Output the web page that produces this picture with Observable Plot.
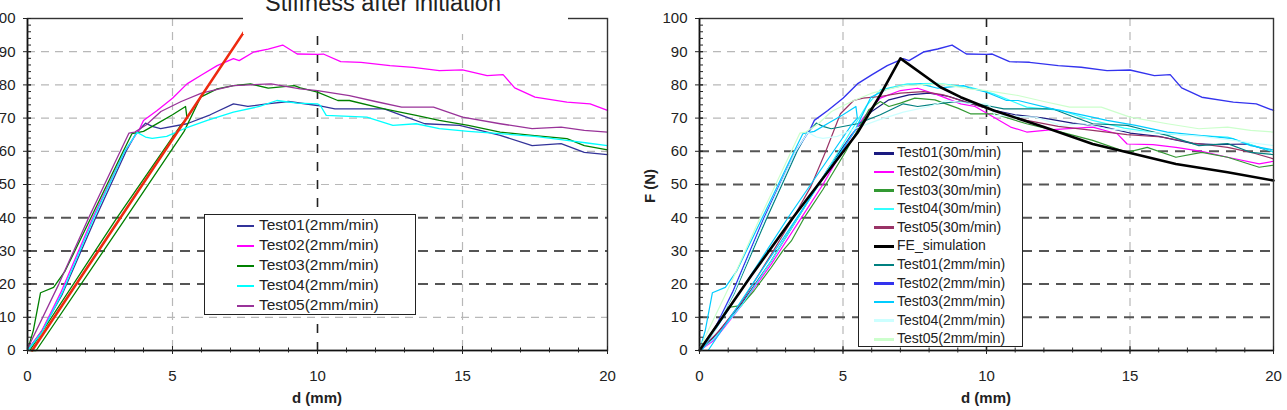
<!DOCTYPE html>
<html><head><meta charset="utf-8">
<script src="https://cdn.jsdelivr.net/npm/d3@7"></script>
<script src="https://cdn.jsdelivr.net/npm/@observablehq/plot@0.6"></script>
<style>
body{margin:0;background:#fff;}
#wrap{position:relative;width:1287px;height:410px;overflow:hidden;background:#fff;font-family:Arial,"Liberation Sans",sans-serif;color:#222;}
.abs{position:absolute;}
.lab{position:absolute;font-weight:bold;font-size:15px;white-space:nowrap;color:#222;}
.legend{position:absolute;background:#fff;border:1px solid #222;box-sizing:border-box;}
.row{position:absolute;white-space:nowrap;}
.sw{position:absolute;}
</style></head>
<body><div id="wrap"></div>
<script>
// ---------- axes / ticks ----------
const xMajor = [0, 5, 10, 15, 20];
const xMinor = d3.range(0, 21, 1);
const yMajor = d3.range(0, 101, 10);
const yMinor = d3.range(0, 101, 2);
const gridXLight = [5, 15];
const gridXDark = [10];
const gridYLightL = [10, 50, 60, 70, 80, 90];
const gridYDarkL = [20, 30, 40];
const gridYLightR = [70, 80, 90];
const gridYDarkR = [10, 20, 30, 40, 50, 60];

// ---------- 2 mm/min tests (d mm, F N) ----------
const test01_2mm = [[0,0],[0.5,6],[1.2,17],[2.35,40],[3.4,60],[3.75,65.5],[4.07,68.5],[4.3,67.5],[4.59,66.8],[5.5,68.3],[6.3,71],[7.1,74.3],[7.6,73.5],[8.26,74.3],[9,75],[10,73.8],[10.6,72.8],[11.5,72.8],[12.3,72.8],[13,70.5],[13.7,68.3],[14.9,67.8],[15.5,66.5],[16.3,64.8],[17.4,61.7],[18.4,62.3],[19.2,59.7],[20,59]];
const test02_2mm = [[0,0],[0.5,6],[1.15,17.5],[2.25,40],[3.35,60],[3.85,66.5],[4.0,69.3],[4.47,72.3],[5.0,76],[5.5,80.3],[6.0,83],[6.54,85.8],[7.1,87.9],[7.3,87.3],[7.8,89.9],[8.3,90.8],[8.8,92],[9.3,89.3],[10,89.2],[10.2,89.3],[10.8,87],[11.5,86.8],[12.5,85.8],[13.3,85.3],[14.2,84.3],[15.0,84.5],[15.85,82.8],[16.4,83.1],[16.8,79.1],[17.5,76.3],[18.6,74.8],[19.4,74.3],[20,72.3]];
const test03_2mm = [[0,0],[0.2,6],[0.45,17.4],[0.9,19],[1.3,24],[2.3,42],[3.3,60],[3.6,65.3],[4.0,66],[4.5,68.5],[5.0,71],[5.45,73.5],[5.5,70],[5.3,68],[3.1,40.2],[0.08,0],[0.3,0],[3.41,40.2],[5.4,66],[5.97,76.3],[6.54,78.8],[7.1,79.8],[7.69,80.3],[8.3,79],[9.2,79.8],[9.41,79.1],[10,77.8],[10.7,75.3],[11.1,75.3],[12.3,72.8],[13.4,70.8],[14.2,69.3],[15.2,67.8],[16.3,65.8],[17.4,64.8],[18.6,63.8],[19.2,61.7],[20,60.4]];
const test04_2mm = [[0,0],[0.5,5.5],[1.2,17.5],[2.29,40],[3.35,60],[3.78,65.7],[4.07,64.3],[4.3,63.9],[4.8,64.5],[5.4,66.8],[6.2,69.3],[7.1,71.8],[8,73.5],[8.6,75.3],[9.3,74.5],[10,74.3],[10.1,73.8],[10.3,70.8],[11.7,70.3],[12.6,67.8],[13.4,68.3],[14.2,66.8],[15.2,66],[16.3,65.3],[17.5,64.5],[18.6,63.3],[19.3,62.5],[20,61.7]];
const test05_2mm = [[0,0.5],[1.08,20],[2.11,40],[3.2,60],[3.5,65.5],[3.7,65.8],[4.1,68],[4.6,72],[5.3,75],[6.0,77.5],[7.1,79.8],[8.4,80.3],[9.4,78.8],[10,78.3],[11.1,76.8],[12,75],[12.9,73.3],[14,73.3],[15,70.3],[16.3,68.3],[17.4,66.8],[18.4,67.3],[19.2,66.3],[20,65.8]];
const stiffnessLine = [[0.16,0],[7.46,95.9]];

// ---------- 30 m/min tests ----------
const test01_30 = [[0,0],[0.5,4],[1.5,14.5],[2.5,27],[3.5,41],[4.5,55],[5.3,65],[6,72],[6.6,75.5],[7.3,77],[8,77.5],[8.7,76.5],[9.4,74.5],[10.2,72.5],[11,71],[12,70],[13,68.5],[14,67.5],[15,65.5],[16,64.5],[17.2,62.3],[18,62],[19.1,62.2],[20,59.8]];
const test02_30 = [[0,0],[0.5,3],[1.5,14],[2.5,26],[3.4,38],[4.3,50],[5.1,62],[5.7,70],[6.3,76],[7.0,78.3],[7.6,79],[8.3,77],[9.1,74.3],[9.6,73.5],[10.3,70],[10.84,67.3],[11.4,65.8],[12.3,66.5],[13.7,67.3],[14.55,65.3],[14.9,62.2],[15.8,62],[16.6,61.2],[17.5,60],[18.4,58.2],[19.5,56.2],[20,57]];
const test03_30 = [[0,0],[0.3,4],[0.7,9],[1.0,13],[1.45,13.5],[1.9,18],[2.5,25],[2.9,30],[3.2,33],[3.65,40],[4.3,48.5],[5.1,60],[5.9,72.5],[6.3,75],[6.6,73.5],[7.0,74.5],[7.5,76],[8.2,75.5],[9,73],[9.44,71.3],[10.25,71.3],[11.4,68.3],[12.5,66],[13.7,63.3],[14.9,59.7],[15.6,61.2],[16.6,58.2],[17.5,59.7],[18.4,58.2],[19.5,55.2],[20,55.8]];
const test04_30 = [[0,0],[0.5,3.5],[1.5,14],[2.5,27],[3.5,41],[4.5,55],[5.2,65],[5.8,73.5],[6.3,78.5],[7.24,80.3],[8.3,80.5],[9.44,79.3],[10.25,77.3],[11.4,73.3],[12.6,72.3],[13.7,69.3],[14.8,67],[16.1,65.3],[17.2,64.8],[18.4,64.3],[19.5,61.2],[20,59.8]];
const test05_30 = [[0,0],[0.7,6],[1.5,15],[2.5,29],[3.2,39],[3.87,49.2],[4.4,60],[4.91,71.3],[5.37,75.3],[5.7,76],[6.3,76.5],[7,77.5],[7.8,78],[8.5,77],[9.1,75.3],[10.2,72.5],[11.4,69.3],[12.5,67.5],[13.7,66.3],[14.9,65],[16.1,64.3],[17.2,62.5],[18.4,61.2],[19.3,59.5],[20,57.7]];
const feSimulation = [[0,0],[1.8,22.5],[3.3,40.5],[4.4,53],[5.5,65.5],[6.3,77],[7.0,88],[8.4,79.3],[9.1,76.3],[10.25,72.3],[12.0,67.3],[13.7,62.2],[14.9,59.7],[16.6,56.2],[18.4,53.7],[20,51.2]];

// ---------- legends ----------
const leftLegend = [
  {name:"Test01(2mm/min)", data:test01_2mm, color:"#333399", w:1.3},
  {name:"Test02(2mm/min)", data:test02_2mm, color:"#ff00ff", w:1.3},
  {name:"Test03(2mm/min)", data:test03_2mm, color:"#008000", w:1.3},
  {name:"Test04(2mm/min)", data:test04_2mm, color:"#00ffff", w:1.3},
  {name:"Test05(2mm/min)", data:test05_2mm, color:"#993399", w:1.3}
];
const rightLegend = [
  {name:"Test01(30m/min)", data:test01_30, color:"#1a1a80", w:1.2},
  {name:"Test02(30m/min)", data:test02_30, color:"#ff00ff", w:1.2},
  {name:"Test03(30m/min)", data:test03_30, color:"#339933", w:1.2},
  {name:"Test04(30m/min)", data:test04_30, color:"#33ffff", w:1.2},
  {name:"Test05(30m/min)", data:test05_30, color:"#993366", w:1.2},
  {name:"FE_simulation", data:feSimulation, color:"#000000", w:2.6},
  {name:"Test01(2mm/min)", data:test01_2mm, color:"#008080", w:1.2},
  {name:"Test02(2mm/min)", data:test02_2mm, color:"#3333ee", w:1.4},
  {name:"Test03(2mm/min)", data:test03_2mm, color:"#00ccff", w:1.2},
  {name:"Test04(2mm/min)", data:test04_2mm, color:"#ccffff", w:1.2},
  {name:"Test05(2mm/min)", data:test05_2mm, color:"#ccffcc", w:1.2}
];

const FONT = 'Arial, "Liberation Sans", sans-serif';
const wrap = document.getElementById("wrap");

function panel({left, width, ml, mr, gridYLight, gridYDark, series, extra, frameStroke}) {
  const marks = [
    Plot.ruleX(gridXLight, {stroke:"#b8b8b8", strokeWidth:1.2, strokeDasharray:"8,6"}),
    Plot.ruleY(gridYLight, {stroke:"#b8b8b8", strokeWidth:1.2, strokeDasharray:"8,6"}),
    Plot.ruleY(gridYDark, {stroke:"#555", strokeWidth:2, strokeDasharray:"10,7"}),
    Plot.ruleX(gridXDark, {stroke:"#222", strokeWidth:1.6, strokeDasharray:"9,9"}),
    ...series.filter(s => s.name !== "FE_simulation").map(s => Plot.line(s.data, {stroke:s.color, strokeWidth:s.w})),
    ...series.filter(s => s.name === "FE_simulation").map(s => Plot.line(s.data, {stroke:s.color, strokeWidth:s.w})),
    ...extra,
    Plot.frame({stroke: frameStroke, strokeWidth:1.4}),
    Plot.ruleX([0], {stroke:"#111", strokeWidth:1.6}),
    Plot.ruleY([0], {stroke:"#111", strokeWidth:1.6}),
    Plot.axisX({ticks:xMajor, tickSize:0, tickPadding:20, label:null, fontSize:15}),
    Plot.axisX({ticks:xMajor, tickSize:8, dy:-4, tickFormat:()=>"", label:null}),
    Plot.axisX({ticks:xMinor, tickSize:5, dy:-2.5, tickFormat:()=>"", label:null}),
    Plot.axisY({ticks:yMajor, tickSize:0, tickPadding:12, label:null, fontSize:15}),
    Plot.axisY({ticks:yMajor, tickSize:8, dx:4, tickFormat:()=>"", label:null}),
    Plot.axisY({ticks:yMinor, tickSize:4, dx:4, tickFormat:()=>"", label:null})
  ];
  const svg = Plot.plot({
    width, height:410, marginLeft:ml, marginRight:mr, marginTop:18, marginBottom:60,
    x:{domain:[0,20], label:null},
    y:{domain:[0,100], label:null},
    style:{fontFamily:FONT, fontSize:"15px", color:"#222", background:"transparent", overflow:"visible"},
    marks
  });
  svg.style.position = "absolute";
  svg.style.left = left + "px";
  svg.style.top = "0px";
  wrap.appendChild(svg);
}

panel({left:0, width:640, ml:27, mr:33, gridYLight:gridYLightL, gridYDark:gridYDarkL,
  series:leftLegend, extra:[Plot.line(stiffnessLine, {stroke:"#ee2a10", strokeWidth:2.6})], frameStroke:"#333"});
panel({left:640, width:647, ml:59, mr:14, gridYLight:gridYLightR, gridYDark:gridYDarkR,
  series:rightLegend, extra:[], frameStroke:"#333"});

function add(html, cls, styles) {
  const el = document.createElement("div");
  el.className = cls;
  el.innerHTML = html;
  Object.assign(el.style, styles);
  wrap.appendChild(el);
  return el;
}

// title with white box covering top frame
add("", "abs", {left:"243px", top:"-5px", width:"325px", height:"39px", background:"#fff"});
add("Stiffness after initiation", "abs", {left:"265px", top:"-10px", fontSize:"23.5px", whiteSpace:"nowrap", color:"#222"});

// axis labels
add("d (mm)", "lab", {left:"317px", top:"389px", transform:"translateX(-50%)"});
add("d (mm)", "lab", {left:"986px", top:"389px", transform:"translateX(-50%)"});
add("F (N)", "lab", {left:"649px", top:"186px", transform:"translate(-50%,-50%) rotate(-90deg)"});

// legends
function legend(items, box, swX, swW, txtX, y0, step, fs) {
  const lg = add("", "legend", {left:box[0]+"px", top:box[1]+"px", width:box[2]+"px", height:box[3]+"px"});
  items.forEach((it, i) => {
    const cy = y0 + step * i;
    const sw = document.createElement("div");
    sw.className = "sw";
    Object.assign(sw.style, {left:swX+"px", top:(cy - 1.5)+"px", width:swW+"px", height:(it.w > 2 ? 3 : 2.5)+"px", background:it.color});
    lg.appendChild(sw);
    const t = document.createElement("div");
    t.className = "row";
    t.textContent = it.name;
    Object.assign(t.style, {left:txtX+"px", top:(cy - fs*0.58)+"px", fontSize:fs+"px", lineHeight:"1", color:"#222"});
    lg.appendChild(t);
  });
}
legend(leftLegend, [204,214,212,101], 32, 17, 54, 11, 20, 15.5);
legend(rightLegend, [858,142,165,205], 15, 20, 38, 10.5, 18.6, 14);
</script></body></html>
